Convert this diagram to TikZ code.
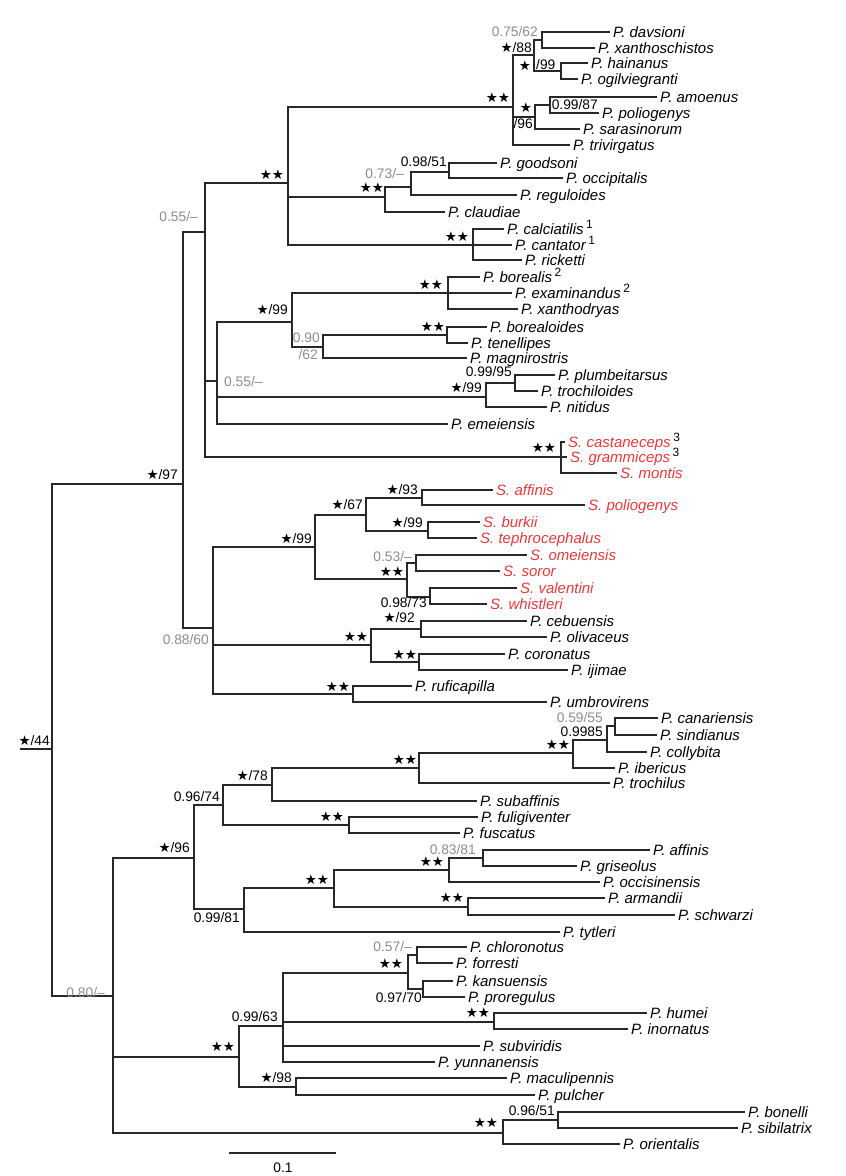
\documentclass[tikz,border=0pt]{standalone}
\usepackage{fontspec}
\setmainfont{Liberation Sans}
\newfontfamily\symf{DejaVu Sans}
\definecolor{linec}{RGB}{40,40,40}
\definecolor{greyc}{RGB}{140,140,140}
\definecolor{sred}{RGB}{226,58,60}
\newcommand\stt{{\symf\fontsize{13.5}{13.5}\selectfont ★}}
\newcommand\stst{{\symf\fontsize{13.5}{13.5}\selectfont ★★}}
\newcommand\nsup[1]{\,{\upshape\raisebox{0.38em}{\fontsize{12}{12}\selectfont #1}}}
\tikzset{
  br/.style={draw=linec, line width=1.2pt},
  leaf/.style={anchor=west, inner xsep=3pt, inner ysep=0pt, text height=13pt, text depth=3pt,
    font=\fontsize{15}{15}\selectfont\itshape, text=black},
  redleaf/.style={leaf, text=sred},
  sv/.style={anchor=east, inner sep=0pt, text height=9.9pt, text depth=0pt,
    font=\fontsize{13.8}{14}\selectfont, text=black},
  svw/.style={sv, anchor=west},
  gsv/.style={sv, text=greyc},
  gsvw/.style={svw, text=greyc},
  ss/.style={anchor=center, inner sep=0pt}
}
\newcommand\mknode[4]{\coordinate (#1) at (#3,#4); \draw[br] (#2) |- (#1);}
\newcommand\mkleaf[6][]{\node[leaf,#1] (#2) at (#4,#5) {#6}; \draw[br] (#3) |- (#2.west);}
\begin{document}
\begin{tikzpicture}[x=1pt,y=-1pt]
\path[use as bounding box] (0,0) rectangle (846,1176);
% root
\coordinate (stub) at (20,749);
\coordinate (root) at (52,749);
\draw[br] (stub) -- (root);
\mknode{P}{root}{183}{484}
\mknode{N0}{P}{205}{232}
\mknode{N1}{N0}{288}{183}
\mknode{M}{N1}{513}{107}
\mknode{A1}{M}{534}{55}
\mknode{DX}{A1}{542}{40}
\mkleaf{davsioni}{DX}{610}{32}{P. davsioni}
\mkleaf{xanthoschistos}{DX}{595}{48}{P. xanthoschistos}
\mknode{HO}{A1}{561}{71}
\mkleaf{hainanus}{HO}{588}{63}{P. hainanus}
\mkleaf{ogilviegranti}{HO}{578}{79}{P. ogilviegranti}
\mknode{B96}{M}{535}{117}
\mknode{AP}{B96}{550}{105}
\mkleaf{amoenus}{AP}{657}{97}{P. amoenus}
\mkleaf{poliogenys}{AP}{599}{113}{P. poliogenys}
\mkleaf{sarasinorum}{B96}{580}{129}{P. sarasinorum}
\mkleaf{trivirgatus}{M}{570}{145}{P. trivirgatus}
\mknode{G1}{N1}{385}{197}
\mknode{G2}{G1}{411}{187}
\mknode{G3}{G2}{449}{172}
\mkleaf{goodsoni}{G3}{497}{163}{P. goodsoni}
\mkleaf{occipitalis}{G3}{563}{178}{P. occipitalis}
\mkleaf{reguloides}{G2}{517}{195}{P. reguloides}
\mkleaf{claudiae}{G1}{445}{212}{P. claudiae}
\mknode{C1}{N1}{473}{245}
\mkleaf{calciatilis}{C1}{504}{229}{P. calciatilis\nsup{1}}
\mkleaf{cantator}{C1}{512}{245}{P. cantator\nsup{1}}
\mkleaf{ricketti}{C1}{522}{260}{P. ricketti}
\mknode{N3}{N0}{217}{381}
\mknode{N2}{N3}{292}{322}
\mknode{B1}{N2}{448}{293}
\mkleaf{borealis}{B1}{480}{277}{P. borealis\nsup{2}}
\mkleaf{examinandus}{B1}{512}{293}{P. examinandus\nsup{2}}
\mkleaf{xanthodryas}{B1}{518}{309}{P. xanthodryas}
\mknode{Q90}{N2}{323}{347}
\mknode{Bt}{Q90}{447}{335}
\mkleaf{borealoides}{Bt}{487}{327}{P. borealoides}
\mkleaf{tenellipes}{Bt}{468}{343}{P. tenellipes}
\mkleaf{magnirostris}{Q90}{467}{358}{P. magnirostris}
\mknode{T99}{N3}{486}{397}
\mknode{TP}{T99}{515}{383}
\mkleaf{plumbeitarsus}{TP}{555}{375}{P. plumbeitarsus}
\mkleaf{trochiloides}{TP}{538}{391}{P. trochiloides}
\mkleaf{nitidus}{T99}{547}{407}{P. nitidus}
\mkleaf{emeiensis}{N3}{448}{424}{P. emeiensis}
\mknode{SC}{N0}{561}{457}
\mkleaf[redleaf]{castaneceps}{SC}{565}{442}{S. castaneceps\nsup{\color{black}3}}
\mkleaf[redleaf]{grammiceps}{SC}{567}{457}{S. grammiceps\nsup{\color{black}3}}
\mkleaf[redleaf]{montis}{SC}{617}{473}{S. montis}
% Seicercus clade and relatives
\mknode{Q}{P}{213}{628}
\mknode{R}{Q}{315}{547}
\mknode{R67}{R}{366}{515}
\mknode{R93}{R67}{422}{498}
\mkleaf[redleaf]{saffinis}{R93}{493}{490}{S. affinis}
\mkleaf[redleaf]{spoliogenys}{R93}{585}{505}{S. poliogenys}
\mknode{R99}{R67}{428}{531}
\mkleaf[redleaf]{burkii}{R99}{480}{522}{S. burkii}
\mkleaf[redleaf]{tephrocephalus}{R99}{477}{538}{S. tephrocephalus}
\mknode{RS}{R}{407}{579}
\mknode{R53}{RS}{416}{563}
\mkleaf[redleaf]{omeiensis}{R53}{527}{555}{S. omeiensis}
\mkleaf[redleaf]{soror}{R53}{500}{571}{S. soror}
\mknode{R98}{RS}{430}{597}
\mkleaf[redleaf]{valentini}{R98}{517}{588}{S. valentini}
\mkleaf[redleaf]{whistleri}{R98}{487}{604}{S. whistleri}
\mknode{CE}{Q}{371}{645}
\mknode{C92}{CE}{421}{629}
\mkleaf{cebuensis}{C92}{527}{621}{P. cebuensis}
\mkleaf{olivaceus}{C92}{547}{637}{P. olivaceus}
\mknode{CC}{CE}{419}{662}
\mkleaf{coronatus}{CC}{505}{654}{P. coronatus}
\mkleaf{ijimae}{CC}{568}{670}{P. ijimae}
\mknode{RU}{Q}{353}{694}
\mkleaf{ruficapilla}{RU}{412}{686}{P. ruficapilla}
\mkleaf{umbrovirens}{RU}{547}{702}{P. umbrovirens}
% lower half
\mknode{B80}{root}{113}{996}
\mknode{S96}{B80}{194}{858}
\mknode{S74}{S96}{223}{805}
\mknode{S78}{S74}{272}{785}
\mknode{T1}{S78}{419}{768}
\mknode{T2}{T1}{573}{753}
\mknode{T3}{T2}{607}{740}
\mknode{T4}{T3}{615}{726}
\mkleaf{canariensis}{T4}{658}{718}{P. canariensis}
\mkleaf{sindianus}{T4}{657}{735}{P. sindianus}
\mkleaf{collybita}{T3}{647}{752}{P. collybita}
\mkleaf{ibericus}{T2}{615}{768}{P. ibericus}
\mkleaf{trochilus}{T1}{610}{783}{P. trochilus}
\mkleaf{subaffinis}{S78}{477}{801}{P. subaffinis}
\mknode{F1}{S74}{349}{825}
\mkleaf{fuligiventer}{F1}{478}{817}{P. fuligiventer}
\mkleaf{fuscatus}{F1}{460}{833}{P. fuscatus}
\mknode{S81}{S96}{244}{909}
\mknode{A2}{S81}{334}{888}
\mknode{A3}{A2}{449}{870}
\mknode{A4}{A3}{483}{858}
\mkleaf{paffinis}{A4}{650}{850}{P. affinis}
\mkleaf{griseolus}{A4}{577}{866}{P. griseolus}
\mkleaf{occisinensis}{A3}{600}{882}{P. occisinensis}
\mknode{A5}{A2}{468}{907}
\mkleaf{armandii}{A5}{605}{898}{P. armandii}
\mkleaf{schwarzi}{A5}{675}{915}{P. schwarzi}
\mkleaf{tytleri}{S81}{560}{932}{P. tytleri}
\mknode{H1}{B80}{239}{1057}
\mknode{H63}{H1}{283}{1026}
\mknode{H2}{H63}{408}{973}
\mknode{H57}{H2}{417}{955}
\mkleaf{chloronotus}{H57}{467}{947}{P. chloronotus}
\mkleaf{forresti}{H57}{453}{963}{P. forresti}
\mknode{H70}{H2}{423}{989}
\mkleaf{kansuensis}{H70}{453}{981}{P. kansuensis}
\mkleaf{proregulus}{H70}{465}{997}{P. proregulus}
\mknode{HU}{H63}{494}{1022}
\mkleaf{humei}{HU}{647}{1013}{P. humei}
\mkleaf{inornatus}{HU}{628}{1029}{P. inornatus}
\mkleaf{subviridis}{H63}{480}{1046}{P. subviridis}
\mkleaf{yunnanensis}{H63}{435}{1062}{P. yunnanensis}
\mknode{H98}{H1}{296}{1087}
\mkleaf{maculipennis}{H98}{507}{1078}{P. maculipennis}
\mkleaf{pulcher}{H98}{535}{1095}{P. pulcher}
\mknode{BO}{B80}{503}{1133}
\mknode{BO51}{BO}{558}{1120}
\mkleaf{bonelli}{BO51}{745}{1112}{P. bonelli}
\mkleaf{sibilatrix}{BO51}{738}{1128}{P. sibilatrix}
\mkleaf{orientalis}{BO}{620}{1144}{P. orientalis}
% support labels
\node[gsv] (l1) at (538,32) {0.75/62};
\node[sv] (l2) at (532,48) {\stt/88};
\node[ss] (l3) at (525,66) {\stt};
\node[svw] (l4) at (536,65) {/99};
\node[ss] (l5) at (498,98) {\stst};
\node[ss] (l6) at (526,108) {\stt};
\node[sv] (l7) at (533,124) {/96};
\node[sv] (l8) at (598,105) {0.99/87};
\node[sv] (l9) at (447,162) {0.98/51};
\node[gsv] (l10) at (404,174) {0.73/–};
\node[ss] (l11) at (372,188) {\stst};
\node[ss] (l12) at (272,175) {\stst};
\node[ss] (l13) at (457,237) {\stst};
\node[ss] (l14) at (431,285) {\stst};
\node[sv] (l15) at (288,310) {\stt/99};
\node[ss] (l16) at (433,327) {\stst};
\node[gsv] (l17) at (320,338) {0.90};
\node[gsv] (l18) at (318,355) {/62};
\node[gsvw] (l19) at (224,382) {0.55/–};
\node[gsv] (l20) at (198,217) {0.55/–};
\node[sv] (l21) at (512,372) {0.99/95};
\node[sv] (l22) at (482,388) {\stt/99};
\node[ss] (l23) at (544,448) {\stst};
\node[sv] (l24) at (178,475) {\stt/97};
\node[gsv] (l25) at (209,640) {0.88/60};
\node[sv] (l26) at (312,539) {\stt/99};
\node[sv] (l27) at (363,505) {\stt/67};
\node[sv] (l28) at (418,490) {\stt/93};
\node[sv] (l29) at (423,523) {\stt/99};
\node[ss] (l30) at (392,572) {\stst};
\node[gsv] (l31) at (412,557) {0.53/–};
\node[sv] (l32) at (427,603) {0.98/73};
\node[ss] (l33) at (356,637) {\stst};
\node[sv] (l34) at (415,618) {\stt/92};
\node[ss] (l35) at (405,655) {\stst};
\node[ss] (l36) at (338,687) {\stst};
\node[sv] (l37) at (50,741) {\stt/44};
\node[gsv] (l38) at (603,718) {0.59/55};
\node[sv] (l39) at (603,732) {0.9985};
\node[ss] (l40) at (558,745) {\stst};
\node[ss] (l41) at (405,760) {\stst};
\node[sv] (l42) at (268,776) {\stt/78};
\node[sv] (l43) at (220,797) {0.96/74};
\node[ss] (l44) at (332,817) {\stst};
\node[sv] (l45) at (190,848) {\stt/96};
\node[sv] (l46) at (240,918) {0.99/81};
\node[ss] (l47) at (317,880) {\stst};
\node[gsv] (l48) at (476,850) {0.83/81};
\node[ss] (l49) at (432,862) {\stst};
\node[ss] (l50) at (452,898) {\stst};
\node[gsv] (l51) at (412,947) {0.57/–};
\node[ss] (l52) at (391,964) {\stst};
\node[sv] (l53) at (422,998) {0.97/70};
\node[sv] (l54) at (278,1017) {0.99/63};
\node[ss] (l55) at (223,1047) {\stst};
\node[ss] (l56) at (478,1013) {\stst};
\node[sv] (l57) at (292,1078) {\stt/98};
\node[ss] (l58) at (486,1123) {\stst};
\node[sv] (l59) at (555,1111) {0.96/51};
\node[gsv] (l60) at (105,993) {0.80/–};
% scale bar
\coordinate (sb1) at (229,1153);
\coordinate (sb2) at (336,1153);
\draw[br] (sb1) -- (sb2);
\node[sv, anchor=center] (sbl) at (283,1168) {0.1};
\end{tikzpicture}
\end{document}
